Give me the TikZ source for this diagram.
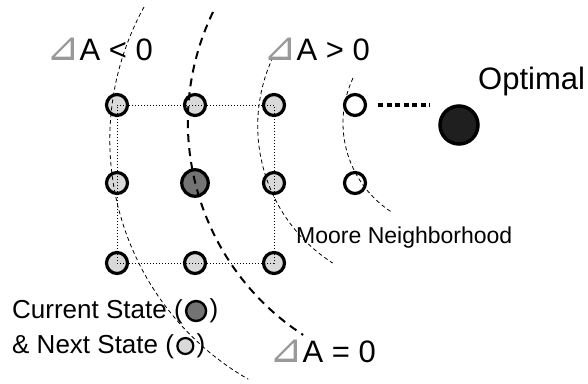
\documentclass[tikz,border=0pt]{standalone}
\usepackage{fontspec}
\setmainfont{Liberation Sans}
\newfontfamily\trifont{DejaVu Sans}
\usetikzlibrary{positioning}

\newcommand{\tri}{{\trifont\fontsize{40}{40}\selectfont\color{black!40}⊿}}

\begin{document}
\begin{tikzpicture}[x=1pt, y=-1pt,
    nbr/.style={draw, circle, line width=3.2pt, fill=gray!30, minimum size=21pt, inner sep=0pt},
    cur/.style={nbr, fill=black!55, minimum size=26.5pt},
    cand/.style={nbr, fill=white},
    opt/.style={nbr, fill=black!88, line width=3.5pt, minimum size=38pt},
    gridline/.style={line width=0.7pt, dash pattern=on 1pt off 2pt},
    thickdot/.style={line width=3.5pt, dash pattern=on 5pt off 3.5pt},
    thinarc/.style={line width=0.8pt, dash pattern=on 4pt off 3pt},
    thickarc/.style={line width=2pt, dash pattern=on 8pt off 6pt},
    lbl/.style={anchor=base west, inner sep=0pt},
    bigtxt/.style={lbl, font=\fontsize{31}{33}\selectfont},
    legtxt/.style={font=\fontsize{26}{28}\selectfont, inner sep=0pt}]
    \useasboundingbox (0,0) rectangle (588,383);

    \node (n11) at (117,105) [nbr]{};
    \node (n12) at (195,105) [nbr]{};
    \node (n13) at (274,105) [nbr]{};
    \node (n21) at (117,183) [nbr]{};
    \node (s) at (195,183) [cur]{};
    \node (n23) at (274,183) [nbr]{};
    \node (n31) at (117,263) [nbr]{};
    \node (n32) at (195,263) [nbr]{};
    \node (n33) at (274,263) [nbr]{};

    \node (w1) at (355,105) [cand]{};
    \node (w2) at (355,183) [cand]{};
    \node (o) at (459,125) [opt]{};
    \coordinate (gapend) at (430,105);

    \draw[gridline] (n11.center) -- (n13.center) -- (n33.center) -- (n31.center) -- cycle;
    \draw[thickdot, shorten <=11pt] (w1) -- (gapend);

    \draw[thinarc] (144,7) arc[start angle=208.8, end angle=119.9, radius=276];
    \draw[thickarc] (213,12) arc[start angle=205.7, end angle=123.1, radius=254];
    \draw[thinarc] (273,57) arc[start angle=205, end angle=122.7, radius=163];
    \draw[thinarc] (353,78) arc[start angle=205.1, end angle=121.9, radius=106];

    \node (neg) at (46,60) [bigtxt] {\tri A < 0};
    \node (pos) at (263,60) [bigtxt] {\tri A > 0};
    \node (zero) at (269,362) [bigtxt] {\tri A = 0};
    \node (otxt) at (478,89) [bigtxt] {Optimal};
    \node (moore) at (296,243) [lbl, font=\fontsize{23}{25}\selectfont] {Moore Neighborhood};

    \node (curtxt) at (12,318) [legtxt, anchor=base west] {Current State (};
    \node (curdot) [nbr, fill=black!55, line width=2.4pt, minimum size=20pt, right=2pt of curtxt.base east, anchor=west, yshift=7pt]{};
    \node (curpar) [legtxt, right=2pt of curdot.east, anchor=west] {)};
    \node (nxttxt) at (12,353) [legtxt, anchor=base west] {\& Next State (};
    \node (nxtdot) [nbr, line width=2.2pt, minimum size=16pt, right=2pt of nxttxt.base east, anchor=west, yshift=7pt]{};
    \node (nxtpar) [legtxt, right=2pt of nxtdot.east, anchor=west] {)};
\end{tikzpicture}
\end{document}
